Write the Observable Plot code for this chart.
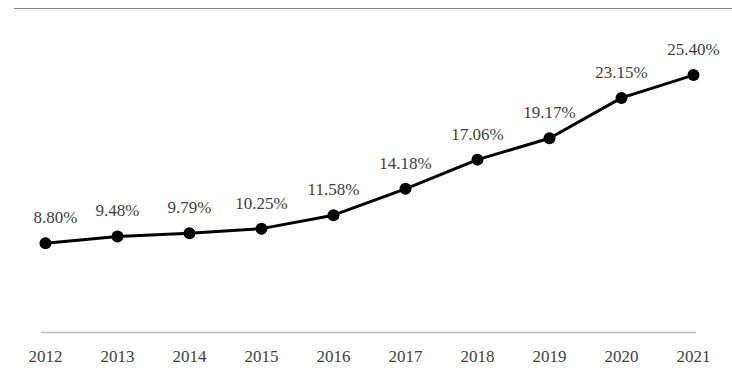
<!DOCTYPE html>
<html>
<head>
<meta charset="utf-8">
<script src="https://cdn.jsdelivr.net/npm/d3@7"></script>
<script src="https://cdn.jsdelivr.net/npm/@observablehq/plot@0.6"></script>
<style>
  html, body { margin: 0; padding: 0; background: #fff; overflow: hidden; }
  #wrap { position: relative; width: 732px; height: 373px; overflow: hidden; }
  #wrap svg { display: block; position: absolute; left: 0; top: 0; }
  #topline { position: absolute; left: 14px; right: 0; top: 8px; border-top: 1.3px solid #808080; }
</style>
</head>
<body>
<div id="wrap"><div id="topline"></div></div>
<script>
const years = ["2012","2013","2014","2015","2016","2017","2018","2019","2020","2021"];
const rates = [8.80, 9.48, 9.79, 10.25, 11.58, 14.18, 17.06, 19.17, 23.15, 25.40];
const labels = ["8.80%","9.48%","9.79%","10.25%","11.58%","14.18%","17.06%","19.17%","23.15%","25.40%"];

const data = years.map((y, i) => ({year: y, rate: rates[i], label: labels[i], first: i === 0}));
const font = "Liberation Serif, Times New Roman, serif";

const chart = Plot.plot({
  width: 732,
  height: 373,
  marginLeft: 41,
  marginRight: 36,
  marginTop: 28,
  marginBottom: 41,
  style: {fontFamily: font, fontSize: "17px", background: "transparent", maxWidth: "none"},
  x: {type: "point", domain: years, padding: 0},
  y: {domain: [0, 30], axis: null},
  marks: [
    Plot.ruleY([0], {stroke: "#bfbfbf", strokeWidth: 1.5}),
    Plot.axisX({tickSize: 0, tickPadding: 17, fill: "#404040", fontSize: 17, fontFamily: font, label: null}),
    Plot.line(data, {x: "year", y: "rate", stroke: "#000", strokeWidth: 3}),
    Plot.dot(data, {x: "year", y: "rate", r: 6, fill: "#000", stroke: "none"}),
    Plot.text(data.filter(d => !d.first), {x: "year", y: "rate", text: "label", lineAnchor: "bottom", dy: -20, fill: "#404040", fontSize: 17, fontFamily: font}),
    Plot.text(data.filter(d => d.first), {x: "year", y: "rate", text: "label", lineAnchor: "bottom", dy: -20, dx: 10, fill: "#404040", fontSize: 17, fontFamily: font})
  ]
});
document.getElementById("wrap").appendChild(chart);
</script>
</body>
</html>
